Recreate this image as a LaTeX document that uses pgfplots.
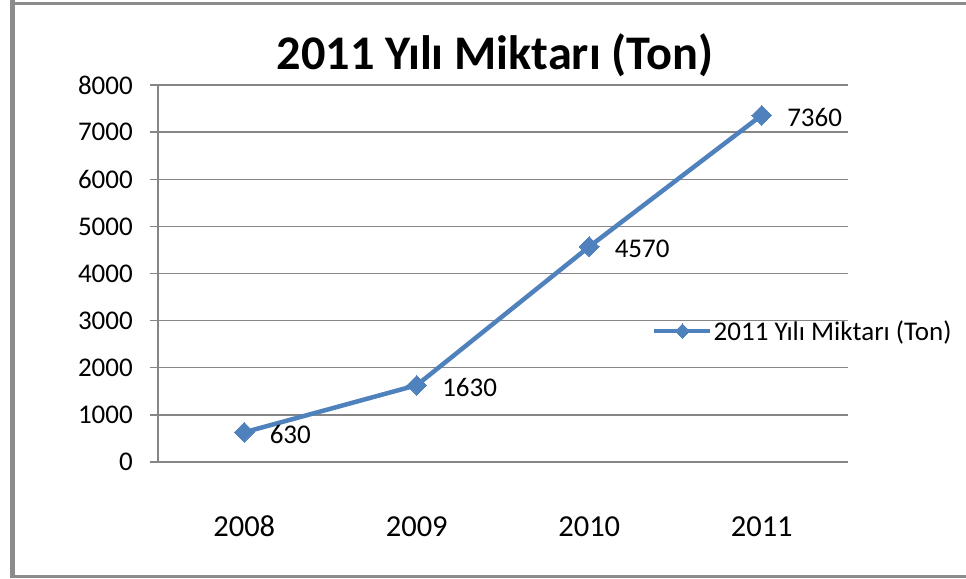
\documentclass[border=0pt]{standalone}
\usepackage{pgfplots}
\pgfplotsset{compat=1.18}
\usepackage{fontspec}
\setmainfont{Carlito}
\definecolor{serblue}{RGB}{79,129,189}
\definecolor{gridgray}{RGB}{134,134,134}
\definecolor{framegray}{RGB}{140,140,140}
\begin{document}
\begin{tikzpicture}
\useasboundingbox (0pt,0pt) rectangle (966pt,578pt);
\draw[framegray, line width=3pt] (10pt,574.5pt) -- (966pt,574.5pt);
\draw[framegray, line width=5pt] (12.5pt,0pt) -- (12.5pt,578pt);
\draw[framegray, line width=2.5pt] (10pt,1.25pt) -- (966pt,1.25pt);
\node[font=\fontsize{48.3}{52}\selectfont\bfseries, inner sep=0pt] at (495pt,523pt) {2011 Yılı Miktarı (Ton)};
\begin{axis}[
 at={(158pt,116pt)}, anchor=south west,
 width=690pt, height=377pt, scale only axis,
 xmin=-0.5, xmax=3.5, ymin=0, ymax=8000,
 xtick={0,1,2,3}, xticklabels={2008,2009,2010,2011},
 ytick={0,1000,...,8000},
 axis lines=left, axis line style={-, gridgray, line width=1.5pt},
 ymajorgrids, grid style={gridgray, line width=1.5pt},
 tick align=outside, major tick length=8pt,
 xtick style={draw=none}, ytick style={gridgray, line width=1.5pt},
 /pgf/number format/assume math mode=true,
 /pgf/number format/set thousands separator={},
 xticklabel style={anchor=base, inner sep=0pt, yshift=-67pt, font=\fontsize{30.5}{32}\selectfont},
 yticklabel style={anchor=east, inner sep=0pt, xshift=-17pt, font=\fontsize{27}{29}\selectfont},
 legend style={at={(0.716,0.3475)}, anchor=west, draw=none, fill=none, inner sep=0pt,
   nodes={inner xsep=1pt}, font=\fontsize{27}{29}\selectfont},
 legend cell align=left,
 legend image code/.code={\draw[#1, mark size=5pt, mark repeat=2, mark phase=2] plot coordinates {(0pt,0pt) (28pt,0pt) (56pt,0pt)};},
 clip=false,
]
\addplot[serblue, line width=4.5pt, mark=square*, mark size=7pt,
  mark options={rotate=45, solid, fill=serblue, line width=0pt},
  nodes near coords,
  nodes near coords style={anchor=west, inner sep=0pt, xshift=25.5pt, yshift=-2pt,
    font=\fontsize{27}{29}\selectfont, text=black}]
 coordinates {(0,630) (1,1630) (2,4570) (3,7360)};
\addlegendentry{2011 Yılı Miktarı (Ton)}
\end{axis}
\end{tikzpicture}
\end{document}
